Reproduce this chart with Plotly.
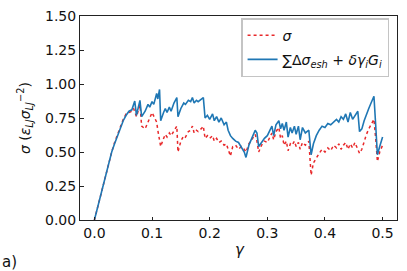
import plotly.graph_objects as go

gamma = [0.000, 0.005, 0.010, 0.015, 0.020, 0.025, 0.030, 0.035, 0.040, 0.045,
         0.050, 0.055, 0.060, 0.065, 0.068, 0.070, 0.073, 0.079, 0.082, 0.088,
         0.093, 0.096, 0.100, 0.103, 0.108, 0.110, 0.113, 0.115, 0.120, 0.123,
         0.126, 0.130, 0.133, 0.138, 0.143, 0.145, 0.150, 0.155, 0.158, 0.163,
         0.167, 0.170, 0.173, 0.177, 0.180, 0.185, 0.189, 0.192, 0.196, 0.200,
         0.205, 0.208, 0.212, 0.216, 0.220, 0.225, 0.229, 0.232, 0.236, 0.240,
         0.245, 0.250, 0.255, 0.260, 0.263, 0.268, 0.273, 0.279, 0.282, 0.285,
         0.290, 0.295, 0.300, 0.305, 0.308, 0.311, 0.315, 0.320, 0.323, 0.326,
         0.329, 0.333, 0.336, 0.340, 0.343, 0.347, 0.350, 0.354, 0.357, 0.361,
         0.366, 0.372, 0.376, 0.380, 0.385, 0.390, 0.395, 0.400, 0.405, 0.410,
         0.415, 0.420, 0.424, 0.428, 0.432, 0.436, 0.440, 0.444, 0.448, 0.452,
         0.457, 0.460, 0.464, 0.468, 0.472, 0.476, 0.480, 0.485, 0.488, 0.491,
         0.495, 0.500]

sigma = [0.00, 0.085, 0.17, 0.26, 0.34, 0.42, 0.50, 0.57, 0.63, 0.68,
         0.74, 0.78, 0.79, 0.80, 0.82, 0.80, 0.76, 0.845, 0.69, 0.67,
         0.73, 0.75, 0.79, 0.76, 0.72, 0.66, 0.60, 0.54, 0.60, 0.63,
         0.61, 0.64, 0.62, 0.66, 0.69, 0.50, 0.58, 0.62, 0.61, 0.65,
         0.66, 0.69, 0.64, 0.66, 0.65, 0.67, 0.69, 0.60, 0.62, 0.60,
         0.62, 0.58, 0.60, 0.57, 0.58, 0.55, 0.56, 0.52, 0.47, 0.54,
         0.55, 0.52, 0.54, 0.52, 0.50, 0.56, 0.59, 0.63, 0.58, 0.50,
         0.55, 0.58, 0.57, 0.61, 0.64, 0.59, 0.65, 0.68, 0.60, 0.62,
         0.55, 0.58, 0.51, 0.56, 0.55, 0.58, 0.54, 0.57, 0.52, 0.57,
         0.55, 0.58, 0.33, 0.42, 0.46, 0.49, 0.52, 0.50, 0.53, 0.51,
         0.55, 0.53, 0.56, 0.52, 0.55, 0.57, 0.52, 0.56, 0.53, 0.57,
         0.52, 0.49, 0.52, 0.58, 0.63, 0.67, 0.70, 0.74, 0.60, 0.43,
         0.50, 0.55]

sum_esh = [0.00, 0.085, 0.17, 0.26, 0.34, 0.42, 0.50, 0.56, 0.62, 0.67,
           0.73, 0.77, 0.80, 0.81, 0.85, 0.875, 0.77, 0.88, 0.76, 0.80,
           0.85, 0.83, 0.87, 0.85, 0.93, 0.89, 0.96, 0.73, 0.79, 0.82,
           0.79, 0.83, 0.80, 0.86, 0.90, 0.76, 0.82, 0.86, 0.85, 0.88,
           0.87, 0.90, 0.86, 0.88, 0.87, 0.89, 0.90, 0.75, 0.77, 0.74,
           0.78, 0.73, 0.76, 0.72, 0.75, 0.70, 0.72, 0.66, 0.62, 0.60,
           0.58, 0.57, 0.53, 0.50, 0.46, 0.55, 0.60, 0.66, 0.64, 0.54,
           0.57, 0.60, 0.62, 0.66, 0.69, 0.62, 0.70, 0.73, 0.67, 0.71,
           0.66, 0.72, 0.61, 0.68, 0.64, 0.69, 0.63, 0.69, 0.59, 0.68,
           0.64, 0.66, 0.48, 0.56, 0.62, 0.66, 0.69, 0.68, 0.71, 0.70,
           0.72, 0.74, 0.72, 0.76, 0.74, 0.78, 0.72, 0.79, 0.74, 0.77,
           0.80, 0.65, 0.67, 0.73, 0.78, 0.82, 0.86, 0.91, 0.70, 0.48,
           0.54, 0.61]

x_ticks = [0.0, 0.1, 0.2, 0.3, 0.4, 0.5]
y_ticks = [0.00, 0.25, 0.50, 0.75, 1.00, 1.25, 1.50]

FONT = "DejaVu Sans"

fig = go.Figure()
fig.add_trace(go.Scatter(
    x=gamma, y=sigma, mode="lines", name="<i>σ</i>", legendgroup="a",
    line=dict(color="#e8282a", width=1.5, dash="dot"),
))
fig.add_trace(go.Scatter(
    x=gamma, y=sum_esh, mode="lines", legendgroup="b",
    name="∑Δ<i>σ</i><sub><i>esh</i></sub> + <i>δγ</i><sub><i>i</i></sub><i>G</i><sub><i>i</i></sub>",
    line=dict(color="#1f77b4", width=1.6),
))

axis_common = dict(
    showline=True, linecolor="#222", linewidth=1, mirror=True,
    ticks="inside", ticklen=3.5, tickwidth=1, tickcolor="#222",
    showgrid=False, zeroline=False, automargin=False,
    tickfont=dict(family=FONT, size=14, color="#111"),
)

fig.update_xaxes(range=[-0.025, 0.525], tickvals=x_ticks,
                 ticktext=[f"{v:.1f}" for v in x_ticks], **axis_common)
fig.update_yaxes(range=[0, 1.5], tickvals=y_ticks,
                 ticktext=[f"{v:.2f}" for v in y_ticks], **axis_common)

fig.update_layout(
    width=407, height=271,
    margin=dict(l=80, r=10, t=16, b=51),
    plot_bgcolor="white", paper_bgcolor="white",
    font=dict(family=FONT, size=14, color="#111"),
    showlegend=True,
    legend=dict(
        x=0.975, y=0.99, xanchor="right", yanchor="top",
        bgcolor="white", bordercolor="#c4c4c4", borderwidth=1.5,
        font=dict(family=FONT, size=14, color="#111"),
        tracegroupgap=3, itemwidth=30,
    ),
    annotations=[
        dict(text="<i>γ</i>", xref="paper", yref="paper",
             x=(240 - 80) / 317, y=(220 - 250) / 204,
             xanchor="center", yanchor="middle", showarrow=False,
             font=dict(family=FONT, size=15, color="#111")),
        dict(text="<i>σ</i> (<i>ε</i><sub><i>LJ</i></sub><i>σ</i><sub><i>LJ</i></sub><sup>−2</sup>)",
             xref="paper", yref="paper",
             x=(25 - 80) / 317, y=0.5, textangle=-90,
             xanchor="center", yanchor="middle", showarrow=False,
             font=dict(family=FONT, size=14, color="#111")),
        dict(text="a)", xref="paper", yref="paper",
             x=(0 - 80) / 317, y=(220 - 262) / 204,
             xanchor="left", yanchor="middle", showarrow=False,
             font=dict(family=FONT, size=15, color="#111")),
    ],
)

fig.write_html(
    "out.html",
    config={"displayModeBar": False},
    post_script="document.body.style.margin='0';document.body.style.overflow='hidden';",
)
